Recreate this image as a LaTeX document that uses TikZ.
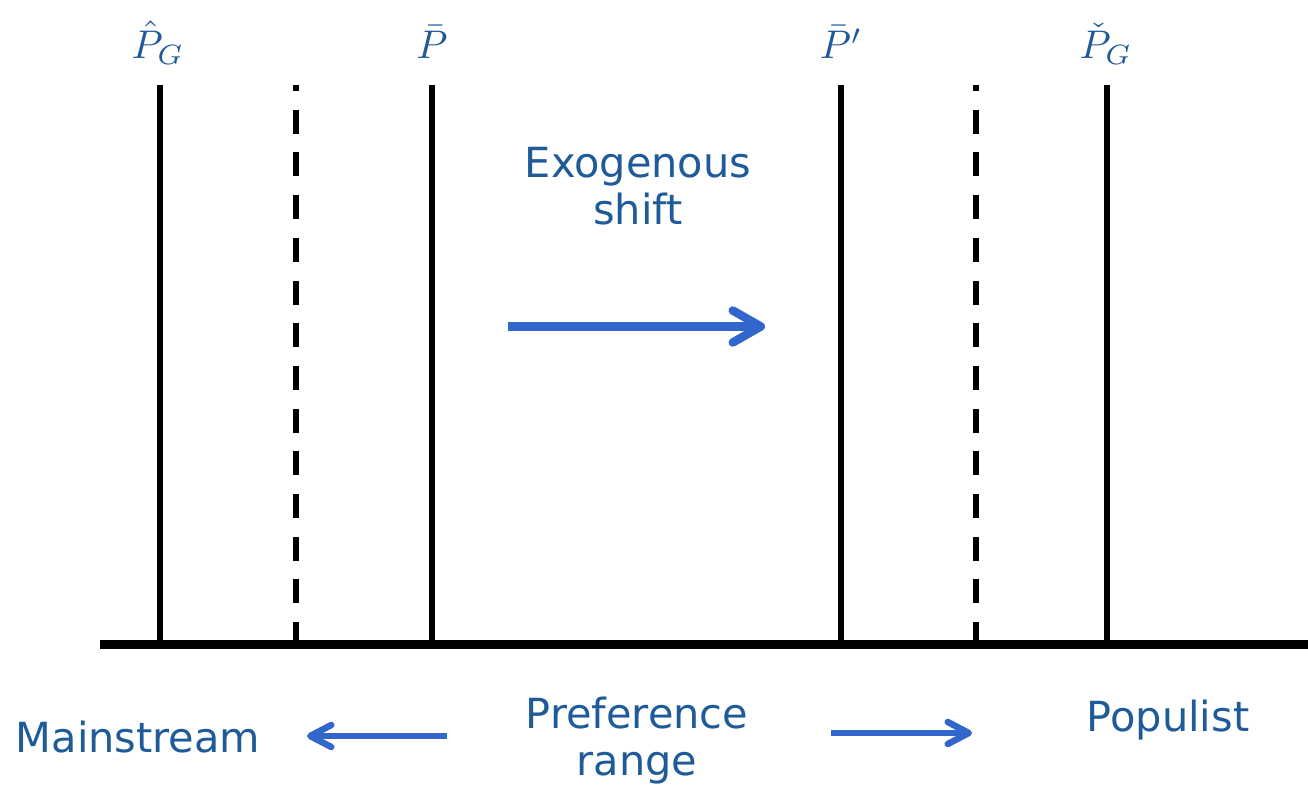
\documentclass[tikz,border=0pt]{standalone}
\usepackage{fontspec}
\setmainfont{DejaVu Sans}
\usetikzlibrary{arrows.meta}
\definecolor{txt}{HTML}{1F5A99}
\definecolor{arr}{HTML}{3366CC}
\begin{document}
\begin{tikzpicture}[x=1pt,y=-1pt,
  axisline/.style={line width=9pt,black},
  solidline/.style={line width=6pt,black},
  dashline/.style={line width=6pt,black,dash pattern=on 24pt off 18.7pt,dash phase=18pt},
  lbl/.style={text=txt,font=\fontsize{41.5}{47}\selectfont,anchor=base,inner sep=0pt,align=center},
  mlbl/.style={text=txt,font=\fontsize{10}{12}\selectfont,anchor=base,inner sep=0pt,scale=4},
  bigarrow/.style={arr,line width=8.5pt,-{Straight Barb[round,length=28pt,width=32pt]}},
  smallarrow/.style={arr,line width=6.5pt,-{Straight Barb[round,length=21pt,width=22pt]}}
]
\useasboundingbox (0,0) rectangle (1308,786);
% axis
\coordinate (axL) at (100,644.5);
\coordinate (axR) at (1308,644.5);
\draw[axisline] (axL) -- (axR);
% vertical lines
\foreach \n/\x in {a/160,b/432,c/841,d/1107}{
  \coordinate (\n top) at (\x,85);
  \coordinate (\n bot) at (\x,644);
  \draw[solidline] (\n top) -- (\n bot);
}
\foreach \n/\x in {e/296,f/976}{
  \coordinate (\n top) at (\x,85);
  \coordinate (\n bot) at (\x,644);
  \draw[dashline] (\n top) -- (\n bot);
}
% math labels
\node[mlbl] (la) at (158,59) {$\hat{P}_G$};
\node[mlbl] (lb) at (432,59) {$\bar{P}$};
\node[mlbl] (lc) at (841,59) {$\bar{P}'$};
\node[mlbl] (ld) at (1106,59) {$\check{P}_G$};
% exogenous shift
\node[lbl] (exo) at (638,225) {Exogenous\\shift};
\coordinate (s1) at (508,326.5);
\coordinate (s2) at (765,326.5);
\draw[bigarrow] (s1) -- (s2);
% bottom
\node[lbl] (pref) at (637,775) {Preference\\range};
\node[lbl] (main) at (138,752) {Mainstream};
\node[lbl] (pop) at (1168,731) {Populist};
\coordinate (m1) at (447,736);
\coordinate (m2) at (307,736);
\draw[smallarrow] (m1) -- (m2);
\coordinate (p1) at (831,733);
\coordinate (p2) at (972,733);
\draw[smallarrow] (p1) -- (p2);
\end{tikzpicture}
\end{document}
